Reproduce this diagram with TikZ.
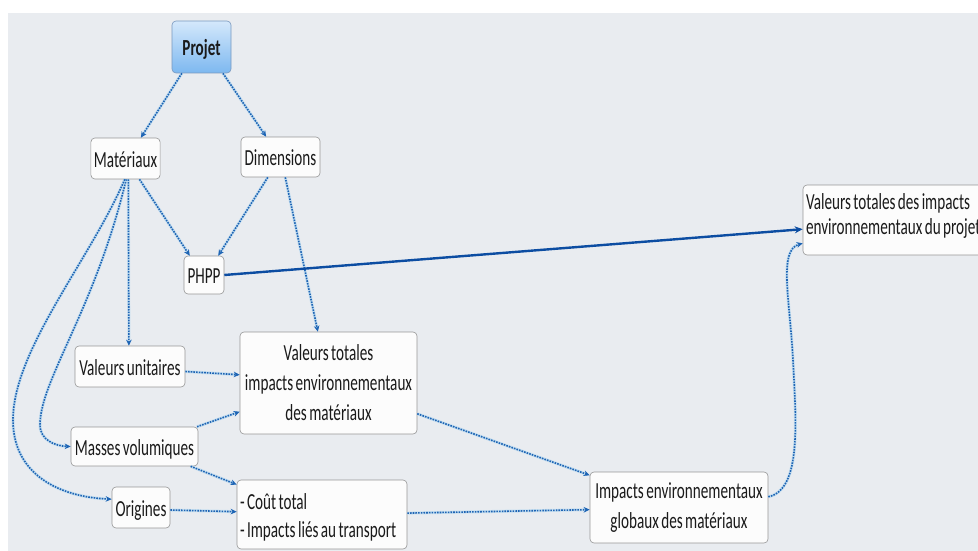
\documentclass[tikz,border=0pt]{standalone}
\usepackage{fontspec}
\setmainfont[FakeStretch=0.66,WordSpace=0.7]{Carlito}
\usetikzlibrary{arrows.meta,calc}
\definecolor{bg}{RGB}{233,236,240}
\definecolor{boxfill}{RGB}{252,252,252}
\definecolor{boxline}{RGB}{150,150,150}
\definecolor{txt}{RGB}{26,26,26}
\definecolor{dotblue}{RGB}{30,100,180}
\definecolor{halo}{RGB}{175,215,240}
\definecolor{solidblue}{RGB}{12,77,162}
\definecolor{projtop}{RGB}{212,232,251}
\definecolor{projbot}{RGB}{125,184,240}
\definecolor{projline}{RGB}{120,152,190}
\begin{document}
\begin{tikzpicture}[x=1pt,y=-1pt,
  box/.style={draw=boxline, fill=boxfill, rounded corners=4pt, line width=0.6pt,
    inner xsep=3pt, inner ysep=2pt, text=txt, font=\fontsize{23}{30}\selectfont},
  oneline/.style={text height=17pt, text depth=0pt},
  dotarrow/.style={draw=dotblue, line width=1.6pt, dash pattern=on 1.6pt off 1.1pt,
    preaction={draw=halo, line width=3pt, solid, opacity=0.6},
    -{Stealth[length=6pt,width=5.5pt]}},
  solidarrow/.style={draw=solidblue, line width=2.4pt, -{Stealth[length=8pt,width=7pt]}}
]
\useasboundingbox (0,0) rectangle (978,551);
\fill[white] (0,0) rectangle (978,551);
\fill[bg] (8,13) rectangle (978,551);
\clip (0,0) rectangle (978,551);

% nodes
\node[box, oneline, draw=projline, top color=projtop, bottom color=projbot,
  minimum width=59pt, minimum height=52pt, font=\fontsize{23}{30}\selectfont\bfseries] (proj) at (201.5,47) {Projet};
\node[box, oneline, minimum width=67pt, minimum height=41pt] (mat) at (125.5,158.5) {Matériaux};
\node[box, oneline, minimum width=79pt, minimum height=40pt] (dim) at (280.5,157) {Dimensions};
\node[box, oneline, minimum width=40pt, minimum height=38pt] (phpp) at (204,275) {PHPP};
\node[box, minimum width=226pt, minimum height=70pt, font=\fontsize{23}{25}\selectfont]
  (tot) at (916,220) {\begin{tabular}{@{}p{220pt}@{}}Valeurs totales des impacts\\environnementaux du projet\\[7pt]\end{tabular}};
\node[box, oneline, minimum width=110pt, minimum height=41pt] (vu) at (130,366.5) {Valeurs unitaires};
\node[box, minimum width=177pt, minimum height=102pt, align=center] (vt) at (328.5,383) {Valeurs totales\\impacts environnementaux\\des matériaux};
\node[box, oneline, minimum width=127pt, minimum height=39pt] (mv) at (134.5,446.5) {Masses volumiques};
\node[box, oneline, minimum width=58pt, minimum height=41pt] (ori) at (141,507.5) {Origines};
\node[box, minimum width=170pt, minimum height=69pt, inner ysep=0pt, font=\fontsize{23}{28}\selectfont]
  (ct) at (322,514.5) {\begin{tabular}{@{}p{164pt}@{}}\rule{0pt}{25.6pt}- Coût total\\- Impacts liés au transport\end{tabular}};
\node[box, minimum width=178pt, minimum height=71pt, align=center] (ig) at (679,507.5) {Impacts environnementaux\\globaux des matériaux};

% connectors
\draw[dotarrow] ($(proj.south west)!0.17!(proj.south east)$) -- ($(mat.north west)!0.72!(mat.north east)$);
\draw[dotarrow] ($(proj.south west)!0.86!(proj.south east)$) -- ($(dim.north west)!0.32!(dim.north east)$);
\draw[dotarrow] ($(mat.south west)!0.70!(mat.south east)$) -- ($(phpp.north west)!0.15!(phpp.north east)$);
\draw[dotarrow] ($(dim.south west)!0.34!(dim.south east)$) -- ($(phpp.north west)!0.85!(phpp.north east)$);
\draw[dotarrow] ($(dim.south west)!0.56!(dim.south east)$) -- ($(vt.north west)!0.44!(vt.north east)$);
\draw[dotarrow] ($(mat.south west)!0.54!(mat.south east)$) -- ($(vu.north west)!0.49!(vu.north east)$);
\draw[dotarrow] ($(mat.south west)!0.51!(mat.south east)$)
  .. controls (95,310) and (40,380) .. (40,425)
  .. controls (40,440) and (55,446) .. (mv.west);
\draw[dotarrow] ($(mat.south west)!0.49!(mat.south east)$)
  .. controls (90,260) and (13,350) .. (13,420)
  .. controls (13,475) and (60,497) .. ($(ori.north west)!0.3!(ori.south west)$);
\draw[dotarrow] ($(vu.east)+(0,5)$) -- ($(vt.north west)!0.42!(vt.south west)$);
\draw[dotarrow] ($(mv.north west)!0.99!(mv.north east)$) -- ($(vt.north west)!0.78!(vt.south west)$);
\draw[dotarrow] ($(mv.south west)!0.94!(mv.south east)$) -- ($(ct.north west)!0.07!(ct.south west)$);
\draw[dotarrow] ($(ori.east)+(0,2.5)$) -- ($(ct.north west)!0.46!(ct.south west)$);
\draw[dotarrow] ($(vt.north east)!0.80!(vt.south east)$) -- ($(ig.north west)!0.05!(ig.south west)$);
\draw[dotarrow] ($(ct.north east)!0.48!(ct.south east)$) -- ($(ig.north west)!0.53!(ig.south west)$);
\draw[dotarrow] ($(ig.north east)!0.35!(ig.south east)$)
  .. controls (802,490) and (796,420) .. (793,360)
  .. controls (790,300) and (778,250) .. ($(tot.north west)!0.83!(tot.south west)$);
\draw[solidarrow] (phpp.east) -- ($(tot.north west)!0.63!(tot.south west)$);
\end{tikzpicture}
\end{document}
